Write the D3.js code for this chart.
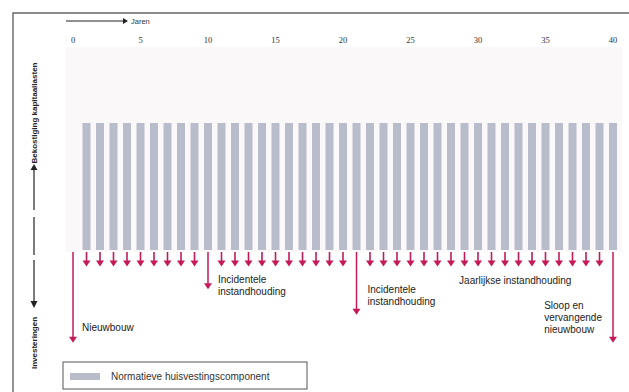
<!DOCTYPE html>
<html><head><meta charset="utf-8">
<script src="https://cdn.jsdelivr.net/npm/d3@7"></script>
<style>body{margin:0;background:#fff}svg{display:block}</style>
</head><body><svg id="c" width="629" height="392"></svg>
<script>
const years = [1,2,3,4,5,6,7,8,9,10,11,12,13,14,15,16,17,18,19,20,21,22,23,24,25,26,27,28,29,30,31,32,33,34,35,36,37,38,39,40];
const barValues = [1,1,1,1,1,1,1,1,1,1,1,1,1,1,1,1,1,1,1,1,1,1,1,1,1,1,1,1,1,1,1,1,1,1,1,1,1,1,1,1];
const smallYears = [1,2,3,4,5,6,7,8,9,11,12,13,14,15,16,17,18,19,20,22,23,24,25,26,27,28,29,30,31,32,33,34,35,36,37,38,39];
const smallValue = -0.13;
const bigYears = [0,10,21,40];
const bigValues = [-0.73,-0.31,-0.51,-0.73];
const tickLabels = [0,5,10,15,20,25,30,35,40];
const labels = [
  {year:0, lines:["Nieuwbouw"], dx:9, y:331},
  {year:10, lines:["Incidentele","instandhouding"], dx:10, y:283},
  {year:21, lines:["Incidentele","instandhouding"], dx:11, y:293},
  {year:28.6, lines:["Jaarlijkse instandhouding"], dx:0, y:284},
  {year:34.9, lines:["Sloop en","vervangende","nieuwbouw"], dx:0, y:309}
];
const legendLabel = "Normatieve huisvestingscomponent";

const svg = d3.select("#c");
const font = "'Liberation Sans', Arial, sans-serif";
const red = "#c41a58";
const barColor = "#b9bdcb";
const x = d3.scaleLinear().domain([0,40]).range([73,613]);
const y = d3.scaleLinear().domain([0,1]).range([250,123]);

// frame
svg.append("path").attr("d","M13,392V13H629").attr("fill","none").attr("stroke","#666").attr("stroke-width",1.4);

// faint plot background
svg.append("rect").attr("x",66).attr("y",47).attr("width",556).attr("height",205).attr("fill","#fbf8f9");

// Jaren arrow
svg.append("line").attr("x1",66).attr("x2",124).attr("y1",21).attr("y2",21).attr("stroke","#222").attr("stroke-width",1);
svg.append("path").attr("d","M123,18L128,21L123,24Z").attr("fill","#222");
svg.append("text").attr("x",131).attr("y",24).attr("font-family",font).attr("font-size",7.5).attr("fill","#333").text("Jaren");

// ticks
svg.append("g").selectAll("text").data(tickLabels).join("text")
  .attr("x",d=>x(d)).attr("y",43).attr("text-anchor","middle")
  .attr("font-family","'Liberation Serif', serif").attr("font-size",8.5).attr("fill","#333").text(d=>d);

// bars
const bw = 8;
svg.append("g").selectAll("rect").data(years).join("rect")
  .attr("x",(d)=>x(d)-bw/2).attr("width",bw)
  .attr("y",(d,i)=>y(barValues[i])).attr("height",(d,i)=>y(0)-y(barValues[i]))
  .attr("fill",barColor);

// small arrows
const sg = svg.append("g");
smallYears.forEach(yr=>{
  const cx = x(yr), tip = y(smallValue);
  sg.append("line").attr("x1",cx).attr("x2",cx).attr("y1",y(0)+2).attr("y2",tip-4).attr("stroke",red).attr("stroke-width",1.6);
  sg.append("path").attr("d",`M${cx-4},${tip-6}L${cx+4},${tip-6}L${cx},${tip}Z`).attr("fill",red);
});

// big arrows
bigYears.forEach((yr,i)=>{
  const cx = x(yr), tip = y(bigValues[i]);
  sg.append("line").attr("x1",cx).attr("x2",cx).attr("y1",y(0)+2).attr("y2",tip-4).attr("stroke",red).attr("stroke-width",1.5);
  sg.append("path").attr("d",`M${cx-4},${tip-6}L${cx+4},${tip-6}L${cx},${tip}Z`).attr("fill",red);
});

// annotations
labels.forEach(l=>{
  const t = svg.append("text").attr("font-family",font).attr("font-size",10).attr("fill","#222");
  l.lines.forEach((s,k)=>t.append("tspan").attr("x",x(l.year)+l.dx).attr("y",l.y+k*12).text(s));
});

// y axis indicator
const ax = 34;
svg.append("path").attr("d",`M${ax-3.5},170L${ax+3.5},170L${ax},164Z`).attr("fill","#222");
[[170,210],[217,255],[260,301]].forEach(s=>svg.append("line").attr("x1",ax).attr("x2",ax).attr("y1",s[0]).attr("y2",s[1]).attr("stroke","#222").attr("stroke-width",1.2));
svg.append("path").attr("d",`M${ax-3.5},301L${ax+3.5},301L${ax},308Z`).attr("fill","#222");
svg.append("text").attr("transform",`translate(${ax+3},113) rotate(-90)`).attr("text-anchor","middle")
  .attr("font-family",font).attr("font-size",8).attr("font-weight","bold").attr("fill","#222").text("Bekostiging kapitaallasten");
svg.append("text").attr("transform",`translate(${ax+3},343) rotate(-90)`).attr("text-anchor","middle")
  .attr("font-family",font).attr("font-size",8).attr("font-weight","bold").attr("fill","#222").text("Investeringen");

// legend
svg.append("rect").attr("x",63).attr("y",362).attr("width",244).attr("height",27).attr("fill","#fff").attr("stroke","#555").attr("stroke-width",1);
svg.append("rect").attr("x",70).attr("y",373).attr("width",30).attr("height",7).attr("fill",barColor);
svg.append("text").attr("x",111).attr("y",380).attr("font-family",font).attr("font-size",10).attr("fill","#333").text(legendLabel);
</script></body></html>
